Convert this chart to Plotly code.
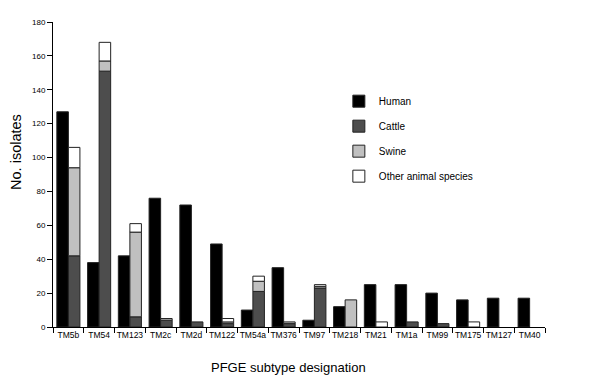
import plotly.graph_objects as go

categories = ["TM5b", "TM54", "TM123", "TM2c", "TM2d", "TM122", "TM54a", "TM376",
              "TM97", "TM218", "TM21", "TM1a", "TM99", "TM175", "TM127", "TM40"]
human = [127, 38, 42, 76, 72, 49, 10, 35, 4, 12, 25, 25, 20, 16, 17, 17]
cattle = [42, 151, 6, 4, 3, 2, 21, 2, 23, 0, 0, 3, 2, 0, 0, 0]
swine = [52, 6, 50, 1, 0, 1, 6, 1, 1, 16, 0, 0, 0, 0, 0, 0]
other = [12, 11, 5, 0, 0, 2, 3, 0, 1, 0, 3, 0, 0, 3, 0, 0]


def nz(vals):
    return [v if v else None for v in vals]


base_swine = [c for c in cattle]
base_other = [c + s for c, s in zip(cattle, swine)]

edge = dict(color="#222222", width=1)
fig = go.Figure()
fig.add_bar(x=categories, y=nz(human), name="Human", offsetgroup="h", legendgroup="1",
            marker=dict(color="#000000", line=edge))
fig.add_bar(x=categories, y=nz(cattle), name="Cattle", offsetgroup="a", legendgroup="2",
            marker=dict(color="#4d4d4d", line=edge))
fig.add_bar(x=categories, y=nz(swine), base=base_swine, name="Swine", offsetgroup="a",
            legendgroup="3", marker=dict(color="#c0c0c0", line=edge))
fig.add_bar(x=categories, y=nz(other), base=base_other, name="Other animal species",
            offsetgroup="a", legendgroup="4", marker=dict(color="#ffffff", line=edge))

font = "Liberation Sans, Arial, sans-serif"
fig.update_layout(
    width=600, height=385,
    margin=dict(l=45, r=63, t=14, b=66, autoexpand=False),
    paper_bgcolor="white", plot_bgcolor="white",
    barmode="group", bargap=0.25, bargroupgap=0,
    font=dict(family=font, color="#000000"),
    showlegend=True,
    legend=dict(x=0.581, y=0.788, xanchor="left", yanchor="top",
                font=dict(size=10, family=font), traceorder="grouped",
                tracegroupgap=6, bgcolor="rgba(0,0,0,0)"),
    xaxis=dict(showline=True, linecolor="#000000", linewidth=1, ticks="outside",
               tickson="boundaries", ticklen=5, tickcolor="#000000", tickangle=0,
               automargin=False, tickfont=dict(size=8.5), showgrid=False, zeroline=False),
    yaxis=dict(range=[0, 180], dtick=20, showline=True, linecolor="#000000", linewidth=1,
               ticks="outside", ticklen=5, tickcolor="#000000", tickfont=dict(size=8),
               automargin=False, showgrid=False, zeroline=False),
    annotations=[
        dict(text="No. isolates", xref="paper", yref="paper", x=0, y=0.574,
             xshift=-37, textangle=-90, showarrow=False, font=dict(size=14.5),
             xanchor="center", yanchor="middle"),
        dict(text="PFGE subtype designation", xref="paper", yref="paper", x=0.478, y=0,
             yshift=-40, showarrow=False, font=dict(size=13), xanchor="center",
             yanchor="middle"),
    ],
)

fig.write_html("out.html")
